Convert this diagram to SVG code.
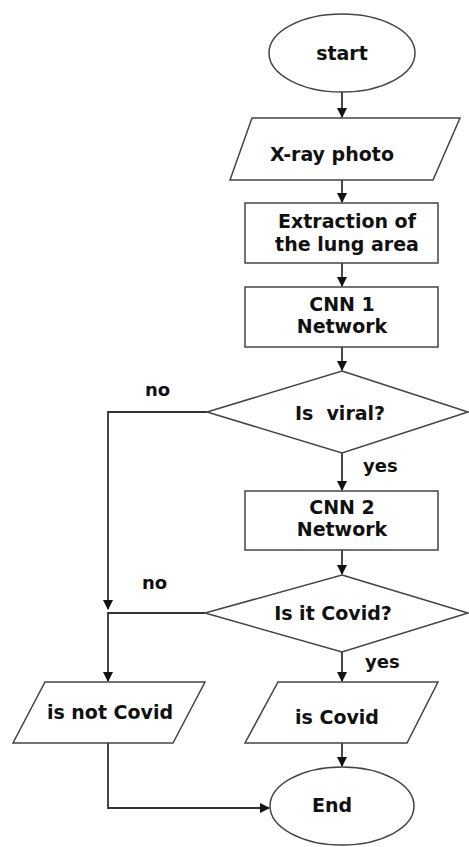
<svg xmlns="http://www.w3.org/2000/svg" width="469" height="847" viewBox="0 0 469 847">
<defs>
<marker id="ah" markerWidth="10" markerHeight="10" refX="9" refY="5" orient="auto" markerUnits="userSpaceOnUse">
<path d="M0,0 L10,5 L0,10 Z" fill="#111"/>
</marker>
<style>
.s{fill:#fff;stroke:#444;stroke-width:1.5}
.c{fill:none;stroke:#333;stroke-width:1.8}
.t{font-family:"DejaVu Sans",sans-serif;font-weight:bold;font-size:19px;fill:#111;text-anchor:middle}
.l{font-family:"DejaVu Sans",sans-serif;font-weight:bold;font-size:18px;fill:#111}
</style>
</defs>
<rect width="469" height="847" fill="#fff"/>
<g id="connectors">
<path class="c" d="M342,92 V117" marker-end="url(#ah)"/>
<path class="c" d="M342,180 V202" marker-end="url(#ah)"/>
<path class="c" d="M342,263 V286" marker-end="url(#ah)"/>
<path class="c" d="M342,347 V370" marker-end="url(#ah)"/>
<path class="c" d="M342,453 V490" marker-end="url(#ah)"/>
<path class="c" d="M342,550 V574" marker-end="url(#ah)"/>
<path class="c" d="M207,412 H108 V609" marker-end="url(#ah)"/>
<path class="c" d="M205,613 H108 V681" marker-end="url(#ah)"/>
<path class="c" d="M342,652 V681" marker-end="url(#ah)"/>
<path class="c" d="M342,743 V766" marker-end="url(#ah)"/>
<path class="c" d="M108,743 V808 H269" marker-end="url(#ah)"/>
<text class="l" x="145" y="396">no</text>
<text class="l" x="363" y="472">yes</text>
<text class="l" x="142" y="589">no</text>
<text class="l" x="365" y="668">yes</text>
</g>
<g id="start">
<ellipse class="s" cx="342" cy="53" rx="73" ry="39"/>
<text class="t" x="342" y="60">start</text>
</g>
<g id="xray">
<polygon class="s" points="252,118 460,118 433,180 230,180"/>
<text class="t" x="332" y="161">X-ray photo</text>
</g>
<g id="extraction">
<rect class="s" x="245" y="203" width="193" height="60"/>
<text class="t" x="347" y="228">Extraction of</text>
<text class="t" x="347" y="251">the lung area</text>
</g>
<g id="cnn1">
<rect class="s" x="245" y="287" width="193" height="60"/>
<text class="t" x="342" y="311">CNN 1</text>
<text class="t" x="342" y="333">Network</text>
</g>
<g id="viral">
<polygon class="s" points="342,371 468,412 342,453 207,412"/>
<text class="t" x="340" y="420" xml:space="preserve">Is  viral?</text>
</g>
<g id="cnn2">
<rect class="s" x="245" y="491" width="193" height="59"/>
<text class="t" x="342" y="514">CNN 2</text>
<text class="t" x="342" y="536">Network</text>
</g>
<g id="covid">
<polygon class="s" points="342,575 468,613 342,652 205,613"/>
<text class="t" x="333" y="620">Is it Covid?</text>
</g>
<g id="notcovid">
<polygon class="s" points="45,682 205,682 173,743 13,743"/>
<text class="t" x="110" y="719">is not Covid</text>
</g>
<g id="iscovid">
<polygon class="s" points="278,682 438,682 407,743 245,743"/>
<text class="t" x="337" y="724">is Covid</text>
</g>
<g id="end">
<ellipse class="s" cx="342" cy="806" rx="72" ry="39"/>
<text class="t" x="332" y="812">End</text>
</g>
</svg>
